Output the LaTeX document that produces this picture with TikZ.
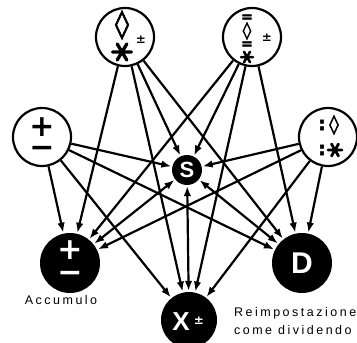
\documentclass[tikz,border=0pt]{standalone}
\usepackage{fontspec}
\setmainfont{Liberation Sans}
\newfontfamily\symfont{DejaVu Sans}
\newfontfamily\heavyfont{DejaVu Sans Bold}[FakeBold=2.5]
\newfontfamily\labelfont{Liberation Sans}[LetterSpace=20]
\usetikzlibrary{arrows.meta}

\begin{document}
\begin{tikzpicture}[x=1pt, y=-1pt, line width=2.2pt, >={Latex[length=10pt,width=7.5pt]}]
        \tikzstyle{reg}=[circle,draw=black,fill=white,line width=2.2pt,minimum size=58pt,inner sep=0pt]
        \tikzstyle{res}=[circle,fill=black,text=white,minimum size=60pt,inner sep=0pt]
        \tikzstyle{sym}=[inner sep=0pt,font=\symfont\bfseries]
        \tikzstyle{wsym}=[sym,text=white]
        \tikzstyle{spokes}=[line width=3pt,line cap=round]
        \tikzstyle{lab}=[inner sep=0pt,align=left,font=\labelfont\fontsize{12.5}{18}\selectfont]

        \useasboundingbox (0,0) rectangle (357,343);

        % registers
        \node[reg] (tl) at (125,37) {};
        \node[reg] (tr) at (252,37) {};
        \node[reg] (lft) at (42,137) {};
        \node[reg] (rgt) at (328,137) {};
        \node[res, minimum size=30pt] (s) at (187,170) {};
        \node[res] (acc) at (70,263) {};
        \node[res, minimum size=56pt] (x) at (189,320) {};
        \node[res] (d) at (302,263) {};

        % what stands in them
        \node[sym, font=\heavyfont\fontsize{28}{28}\selectfont] (tlloz) at (122,25) {◊};
        \draw[spokes, line width=3.3pt, shift={(122,52)}] (-9.5,0) -- (9.5,0) (-4.8,-8) -- (4.8,8) (4.8,-8) -- (-4.8,8);
        \node[sym, font=\symfont\bfseries\fontsize{12}{12}\selectfont] (tlpm) at (141,40) {±};
        \node[sym, font=\heavyfont\fontsize{14}{14}\selectfont] (treqa) at (247,18) {=};
        \node[sym, font=\heavyfont\fontsize{17}{17}\selectfont] (trloz) at (247,31) {◊};
        \node[sym, font=\heavyfont\fontsize{14}{14}\selectfont] (treqb) at (247,45) {=};
        \draw[spokes, line width=2.5pt, shift={(247,57)}] (-6,0) -- (6,0) (-3,-5.2) -- (3,5.2) (3,-5.2) -- (-3,5.2);
        \node[sym, font=\symfont\bfseries\fontsize{12}{12}\selectfont] (trpm) at (267,38) {±};
        \node[sym, font=\symfont\bfseries\fontsize{30}{30}\selectfont] (lplus) at (42,127) {+};
        \node[sym, font=\symfont\bfseries\fontsize{30}{30}\selectfont] (lminus) at (42,152) {−};
        \node[sym, font=\heavyfont\fontsize{19}{19}\selectfont] (rcola) at (322,125) {:};
        \node[sym, font=\heavyfont\fontsize{19}{19}\selectfont] (rloz) at (334,125) {◊};
        \node[sym, font=\heavyfont\fontsize{19}{19}\selectfont] (rcolb) at (322,150) {:};
        \draw[spokes, line width=2.8pt, shift={(335,150)}] (-7,0) -- (7,0) (-3.5,-6) -- (3.5,6) (3.5,-6) -- (-3.5,6);
        \node[wsym, font=\bfseries\fontsize{22}{22}\selectfont] (stext) at (s) {S};
        \node[wsym, font=\symfont\bfseries\fontsize{30}{30}\selectfont] (aplus) at (70,250) {+};
        \node[wsym, font=\symfont\bfseries\fontsize{30}{30}\selectfont] (aminus) at (70,277) {−};
        \node[wsym, font=\bfseries\fontsize{26}{26}\selectfont] (xtext) at (181,322) {X};
        \node[wsym, font=\symfont\bfseries\fontsize{12}{12}\selectfont] (xpm) at (199,321) {±};
        \node[wsym, font=\bfseries\fontsize{30}{30}\selectfont] (dtext) at (d) {D};

        % labels
        \node[lab] (acclab) at (61,300) {Accumulo};
        \node[lab, anchor=west] (dlab) at (233,321) {Reimpostazione\\come dividendo};

        % transfers
        \draw[->] (tl) -- (acc);
        \draw[->] (tl) -- (x);
        \draw[->] (tl) -- (s);
        \draw[->] (tl) -- (d);
        \draw[->] (tr) -- (acc);
        \draw[->] (tr) -- (x);
        \draw[->] (tr) -- (s);
        \draw[->] (tr) -- (d);
        \draw[->] (lft) -- (acc);
        \draw[->] (lft) -- (x);
        \draw[->] (lft) -- (s);
        \draw[->] (lft) -- (d);
        \draw[->] (rgt) -- (acc);
        \draw[->] (rgt) -- (x);
        \draw[->] (rgt) -- (s);
        \draw[->] (rgt) -- (d);
        \draw[<->] (s) -- (acc);
        \draw[<->] (s) -- (x);
        \draw[<->] (s) -- (d);
    \end{tikzpicture}
\end{document}
